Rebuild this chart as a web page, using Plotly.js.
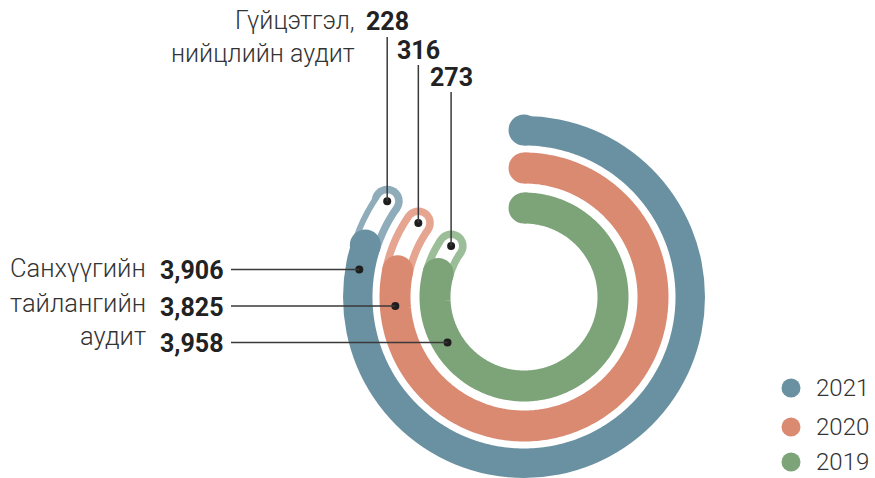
<!DOCTYPE html>
<html><head><meta charset="utf-8">
<script src="https://cdn.plot.ly/plotly-3.0.1.min.js"></script>
<style>html,body{margin:0;padding:0;background:#fff}</style>
</head><body><div id="chart" style="width:875px;height:478px"></div>
<script>
// ---- data ----
const years = ['2021', '2020', '2019'];
const financialAudit = [3906, 3825, 3958];   // Санхүүгийн тайлангийн аудит
const complianceAudit = [228, 316, 273];     // Гүйцэтгэл, нийцлийн аудит
const financialLabel = ['Санхүүгийн', 'тайлангийн', 'аудит'];
const complianceLabel = ['Гүйцэтгэл,', 'нийцлийн аудит'];

// ---- style / layout ----
const colors = ['#6a91a1', '#db8a72', '#7da379'];
const lightColors = ['#8facba', '#e6a591', '#9bbe98'];
const W = 875, H = 478, CX = 524, CY = 297, R = 181;
const ringR = [167, 129, 89];
const BAND = 31, HOLE = 16, SWEEP = 305;
const FONT = 'Roboto, sans-serif';
const TXT = '#333333';
const leftRowY = [269.5, 306, 342.5];
const leftTextY = [268, 303, 336];
const topNumY = [22, 50, 77];
const legendY = [388, 427, 462];

function arcTheta(a0, a1) {
  const n = Math.max(2, Math.ceil(Math.abs(a1 - a0)) + 1);
  const t = [];
  for (let i = 0; i < n; i++) t.push(a0 + (a1 - a0) * i / (n - 1));
  return t;
}
function fill(v, n) { return Array(n).fill(v); }
function toPx(r, th) {
  const a = th * Math.PI / 180;
  return [CX + r * Math.sin(a), CY - r * Math.cos(a)];
}
const px = x => x / W, py = y => 1 - y / H;

const traces = [];
const shapes = [];
const annotations = [];
const dotR = [], dotT = [];
const base = {type: 'scatterpolar', hoverinfo: 'skip', showlegend: false, cliponaxis: false};

years.forEach((yr, i) => {
  const total = financialAudit[i] + complianceAudit[i];
  const th1 = financialAudit[i] / total * SWEEP;
  const th2 = SWEEP;
  const r = ringR[i];
  const tThin = arcTheta(th1, th2), tThick = arcTheta(0, th1);
  // thin (compliance) arc: hollow outline
  traces.push(Object.assign({}, base, {r: fill(r, tThin.length), theta: tThin, mode: 'lines',
    line: {color: lightColors[i], width: BAND}}));
  traces.push(Object.assign({}, base, {r: [r], theta: [th2], mode: 'markers',
    marker: {color: lightColors[i], size: BAND, line: {width: 0}}}));
  traces.push(Object.assign({}, base, {r: fill(r, tThin.length), theta: tThin, mode: 'lines',
    line: {color: '#ffffff', width: HOLE}}));
  traces.push(Object.assign({}, base, {r: [r], theta: [th2], mode: 'markers',
    marker: {color: '#ffffff', size: HOLE, line: {width: 0}}}));
  // thick (financial) arc
  traces.push(Object.assign({}, base, {r: fill(r, tThick.length), theta: tThick, mode: 'lines',
    line: {color: colors[i], width: BAND}, name: yr}));
  traces.push(Object.assign({}, base, {r: [r, r], theta: [0, th1], mode: 'markers',
    marker: {color: colors[i], size: BAND, line: {width: 0}}}));

  // dots + leader lines
  const [ex, ey] = toPx(r, th2);
  dotR.push(r); dotT.push(th2);
  shapes.push({type: 'line', xref: 'paper', yref: 'paper', x0: px(ex), x1: px(ex),
    y0: py(topNumY[i] + 15), y1: py(ey), line: {color: '#3a3a3a', width: 1.5}, layer: 'above'});
  annotations.push({xref: 'paper', yref: 'paper', x: px(ex), y: py(topNumY[i]), xanchor: 'center',
    yanchor: 'middle', showarrow: false, text: complianceAudit[i].toLocaleString('en-US'),
    font: {family: FONT, size: 25, color: '#222', weight: 'bold'}});

  const ly = leftRowY[i];
  const dy = CY - ly;
  const thDot = 270 + Math.asin(dy / r) * 180 / Math.PI;
  const [dx2] = toPx(r, thDot);
  dotR.push(r); dotT.push(thDot);
  shapes.push({type: 'line', xref: 'paper', yref: 'paper', x0: px(231), x1: px(dx2),
    y0: py(ly), y1: py(ly), line: {color: '#3a3a3a', width: 1.5}, layer: 'above'});
  annotations.push({xref: 'paper', yref: 'paper', x: px(226), y: py(ly + 1), xanchor: 'right',
    yanchor: 'middle', showarrow: false, text: financialAudit[i].toLocaleString('en-US'),
    font: {family: FONT, size: 25, color: '#222', weight: 'bold'}});
  annotations.push({xref: 'paper', yref: 'paper', x: px(148), y: py(leftTextY[i]), xanchor: 'right',
    yanchor: 'middle', showarrow: false, text: financialLabel[i],
    font: {family: FONT, size: 25.5, color: TXT, weight: 300}});

  // legend
  const lgY = legendY[i];
  shapes.push({type: 'circle', xref: 'paper', yref: 'paper', x0: px(781.5), x1: px(800.5),
    y0: py(lgY - 9.5), y1: py(lgY + 9.5), fillcolor: colors[i], line: {width: 0}});
  annotations.push({xref: 'paper', yref: 'paper', x: px(814), y: py(lgY), xanchor: 'left',
    yanchor: 'middle', showarrow: false, text: yr,
    font: {family: FONT, size: 24, color: TXT, weight: 300}});
});

traces.push(Object.assign({}, base, {r: dotR, theta: dotT, mode: 'markers',
  marker: {color: '#1e1e1e', size: 8, line: {width: 0}}}));

annotations.push({xref: 'paper', yref: 'paper', x: px(357), y: py(20), xanchor: 'right',
  yanchor: 'middle', showarrow: false, text: complianceLabel[0],
  font: {family: FONT, size: 25, color: TXT, weight: 300}});
annotations.push({xref: 'paper', yref: 'paper', x: px(357), y: py(53), xanchor: 'right',
  yanchor: 'middle', showarrow: false, text: complianceLabel[1],
  font: {family: FONT, size: 25, color: TXT, weight: 300}});

const layout = {
  width: W, height: H, margin: {l: 0, r: 0, t: 0, b: 0},
  paper_bgcolor: '#ffffff', plot_bgcolor: '#ffffff', showlegend: false,
  polar: {
    domain: {x: [(CX - R) / W, (CX + R) / W], y: [(H - CY - R) / H, (H - CY + R) / H]},
    bgcolor: 'rgba(0,0,0,0)',
    radialaxis: {range: [0, R], visible: false, showgrid: false, showline: false, showticklabels: false, ticks: ''},
    angularaxis: {rotation: 90, direction: 'clockwise', visible: false, showgrid: false, showline: false, showticklabels: false, ticks: ''}
  },
  shapes: shapes, annotations: annotations
};
Plotly.newPlot('chart', traces, layout, {displayModeBar: false, staticPlot: true});
</script></body></html>
